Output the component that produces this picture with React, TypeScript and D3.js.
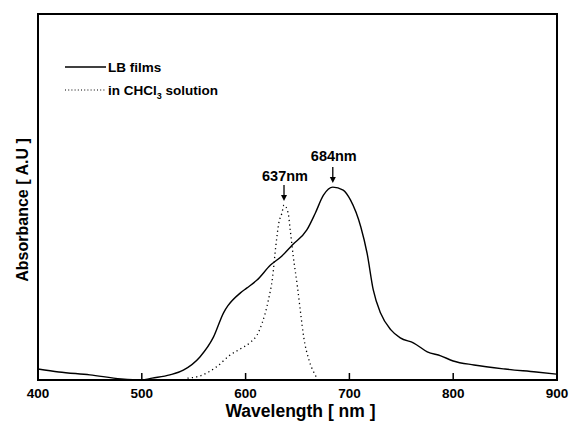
import React from "react";
import * as d3 from "d3";

const lbWavelength = [400, 420, 450, 480, 500, 510, 527, 540, 556, 569, 579, 583, 595, 601, 611, 624, 635, 645, 659, 667, 675, 684, 694, 701, 711, 717, 723, 730, 740, 749, 762, 775, 788, 800, 820, 850, 880, 900];
const lbAbsorbance = [0.030, 0.022, 0.014, 0.003, 0.0, 0.005, 0.014, 0.027, 0.063, 0.117, 0.185, 0.203, 0.238, 0.251, 0.273, 0.314, 0.339, 0.369, 0.410, 0.455, 0.505, 0.527, 0.519, 0.492, 0.418, 0.347, 0.246, 0.183, 0.137, 0.115, 0.101, 0.077, 0.066, 0.052, 0.041, 0.030, 0.022, 0.016];

const solWavelength = [544, 556, 572, 585, 593, 605, 611, 616, 622, 626, 629, 632, 635, 637, 641, 643, 646, 650, 653, 656, 661, 667, 670];
const solAbsorbance = [0.005, 0.011, 0.036, 0.068, 0.082, 0.104, 0.123, 0.156, 0.219, 0.281, 0.363, 0.429, 0.456, 0.478, 0.456, 0.410, 0.336, 0.254, 0.183, 0.117, 0.055, 0.014, 0.0];

const xTicks = [400, 500, 600, 700, 800, 900];
const peakLabels = ["637nm", "684nm"];
const peakWavelengths = [637, 684];
const peakValues = [0.478, 0.527];

const W = 572, H = 422;
const left = 38, right = 557, top = 14, bottom = 380;

export default function App() {
  const x = d3.scaleLinear().domain([400, 900]).range([left, right]);
  const y = d3.scaleLinear().domain([0, 1]).range([bottom, top]);
  const line = d3.line<[number, number]>().x(d => x(d[0])).y(d => y(d[1])).curve(d3.curveMonotoneX);
  const lb = line(lbWavelength.map((w, i) => [w, lbAbsorbance[i]] as [number, number]))!;
  const sol = line(solWavelength.map((w, i) => [w, solAbsorbance[i]] as [number, number]))!;
  const font = "'Liberation Sans', Arial, sans-serif";
  const labelYOffset = [22, 24];
  return (
    <svg width={W} height={H} style={{ position: "absolute", left: 0, top: 0, background: "#fff" }} fontFamily={font}>
      <rect x={0} y={0} width={W} height={H} fill="#fff" />
      <path d={lb} fill="none" stroke="#000" strokeWidth={1.4} />
      <path d={sol} fill="none" stroke="#000" strokeWidth={1.3} strokeDasharray="1.2,3.2" />
      <rect x={left} y={top} width={right - left} height={bottom - top} fill="none" stroke="#000" strokeWidth={2} />
      {xTicks.map(t => (
        <g key={t}>
          <line x1={x(t)} x2={x(t)} y1={bottom} y2={bottom - 7} stroke="#000" strokeWidth={1.5} />
          <text x={x(t)} y={398} textAnchor="middle" fontSize={13.5} fontWeight="bold">{t}</text>
        </g>
      ))}
      <text x={(left + right) / 2 + 3} y={417} textAnchor="middle" fontSize={17.5} fontWeight="bold">Wavelength [ nm ]</text>
      <text transform={`translate(28,210) rotate(-90)`} textAnchor="middle" fontSize={16} fontWeight="bold">Absorbance [ A.U ]</text>
      {/* legend */}
      <line x1={65} x2={106} y1={67} y2={67} stroke="#000" strokeWidth={1.3} />
      <text x={108} y={72} fontSize={13.5} fontWeight="600">LB films</text>
      <line x1={65} x2={106} y1={90} y2={90} stroke="#000" strokeWidth={1.1} strokeDasharray="1,2.2" />
      <text x={108} y={95} fontSize={13.5} fontWeight="600">in CHCl<tspan dy={4} fontSize={9}>3</tspan><tspan dy={-4}> solution</tspan></text>
      {/* peak annotations */}
      {peakWavelengths.map((w, i) => {
        const px = x(w);
        const tipY = y(peakValues[i]) - 4;
        const startY = tipY - 16;
        return (
          <g key={w}>
            <line x1={px} x2={px} y1={startY} y2={tipY - 5} stroke="#000" strokeWidth={1.3} />
            <path d={`M${px - 3},${tipY - 6} L${px + 3},${tipY - 6} L${px},${tipY} Z`} fill="#000" />
            <text x={px + 1} y={startY - labelYOffset[i] + 18} textAnchor="middle" fontSize={14.5} fontWeight="600">{peakLabels[i]}</text>
          </g>
        );
      })}
    </svg>
  );
}
